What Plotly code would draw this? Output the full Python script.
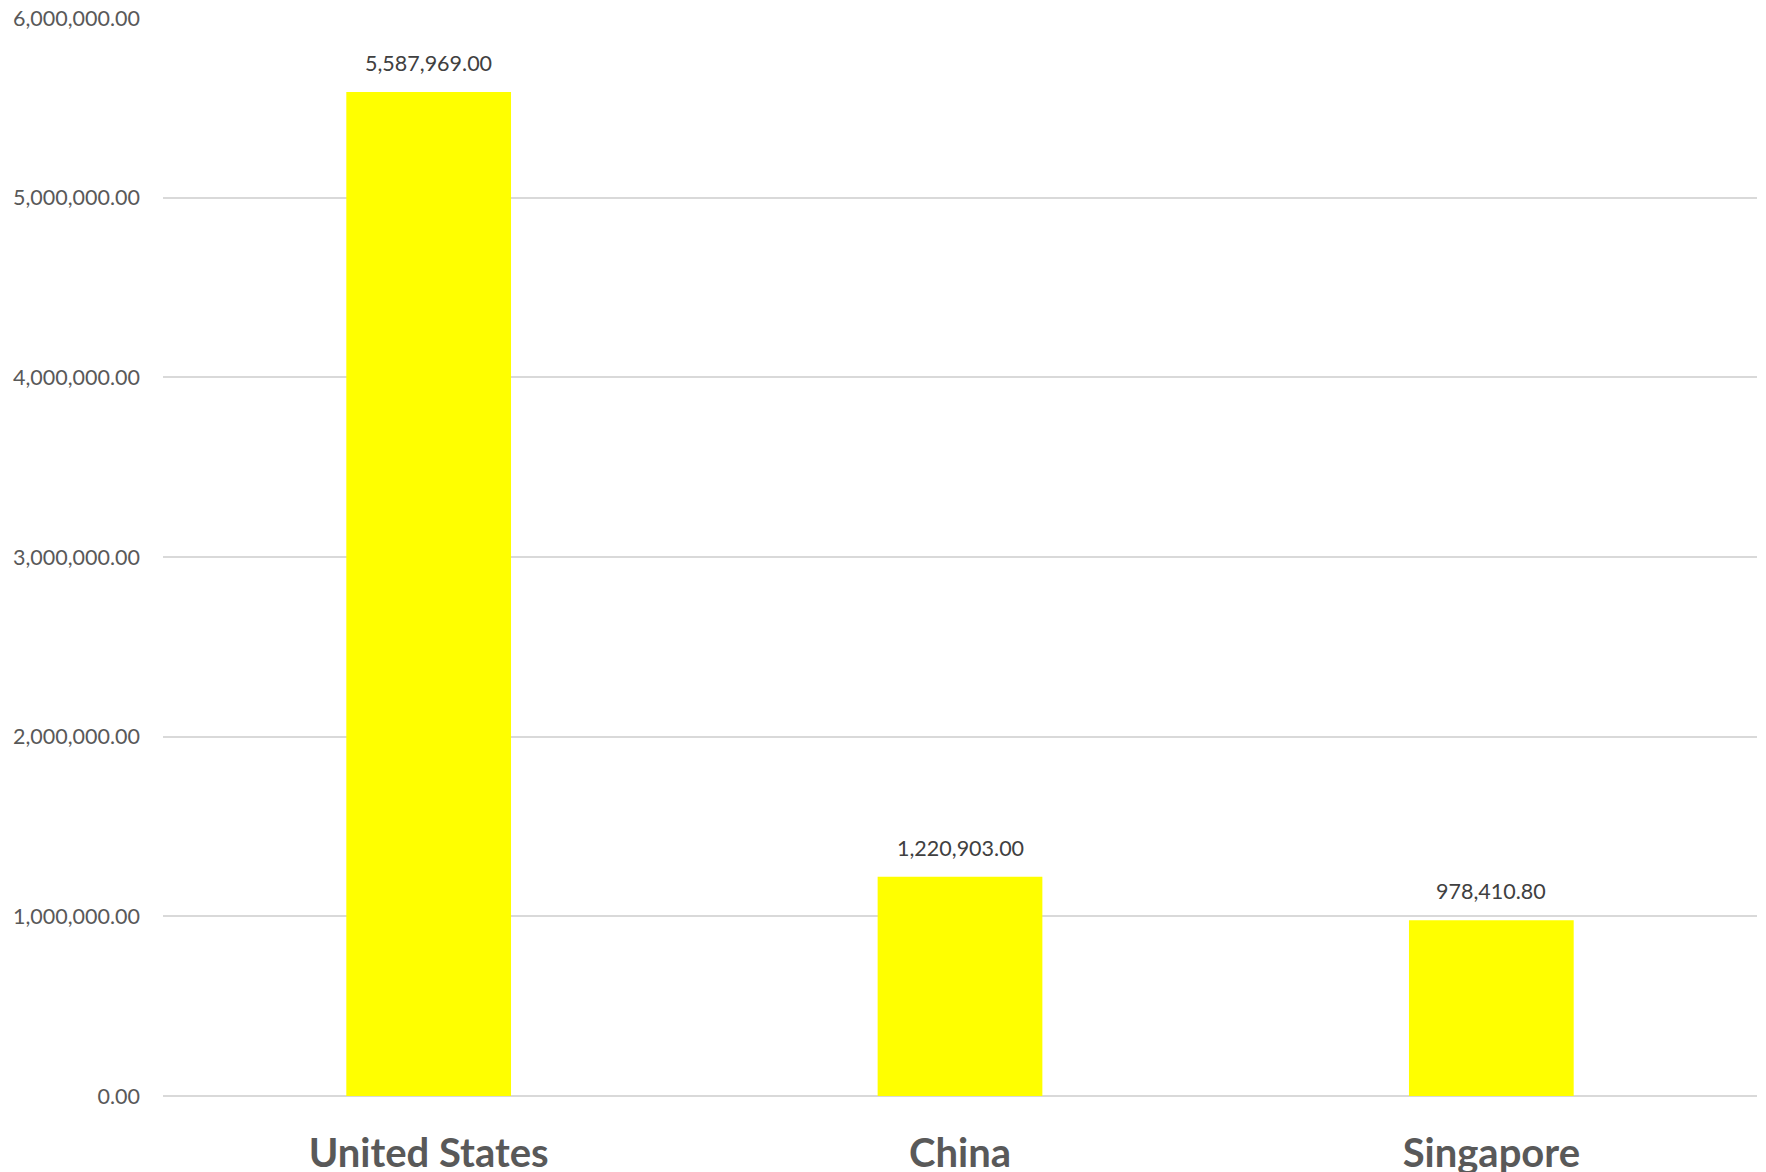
import plotly.graph_objects as go

countries = ["United States", "China", "Singapore"]
values = [5587969.00, 1220903.00, 978410.80]
y_ticks = [0, 1000000, 2000000, 3000000, 4000000, 5000000, 6000000]
y_tick_labels = ["0.00", "1,000,000.00", "2,000,000.00", "3,000,000.00",
                 "4,000,000.00", "5,000,000.00", "6,000,000.00"]

fig = go.Figure(
    go.Bar(
        x=countries,
        y=values,
        width=0.31,
        marker=dict(color="#FFFF00", line=dict(width=0)),
        hoverinfo="x+y",
    )
)

# value labels above each bar
for c, v in zip(countries, values):
    fig.add_annotation(
        x=c, y=v, text=f"{v:,.2f}", showarrow=False,
        yanchor="bottom", yshift=14,
        font=dict(family="Lato, sans-serif", size=21.5, color="#404040"),
    )

fig.update_layout(
    width=1766,
    height=1172,
    margin=dict(l=163, r=9, t=18, b=76),
    paper_bgcolor="white",
    plot_bgcolor="white",
    showlegend=False,
    font=dict(family="Lato, sans-serif"),
)

fig.update_xaxes(
    automargin=False,
    showgrid=False,
    showline=False,
    ticks="outside",
    ticklen=22,
    tickcolor="rgba(0,0,0,0)",
    tickfont=dict(family="Lato, sans-serif", size=40, color="#595959", weight="bold"),
)

fig.update_yaxes(
    automargin=False,
    range=[0, 6000000],
    tickvals=y_ticks,
    ticktext=y_tick_labels,
    showgrid=True,
    gridcolor="#D9D9D9",
    gridwidth=1.5,
    zeroline=True,
    zerolinecolor="#D9D9D9",
    zerolinewidth=1.5,
    showline=False,
    ticks="",
    ticklabelstandoff=22,
    tickfont=dict(family="Lato, sans-serif", size=21.5, color="#595959"),
)

fig.write_html("out.html")
